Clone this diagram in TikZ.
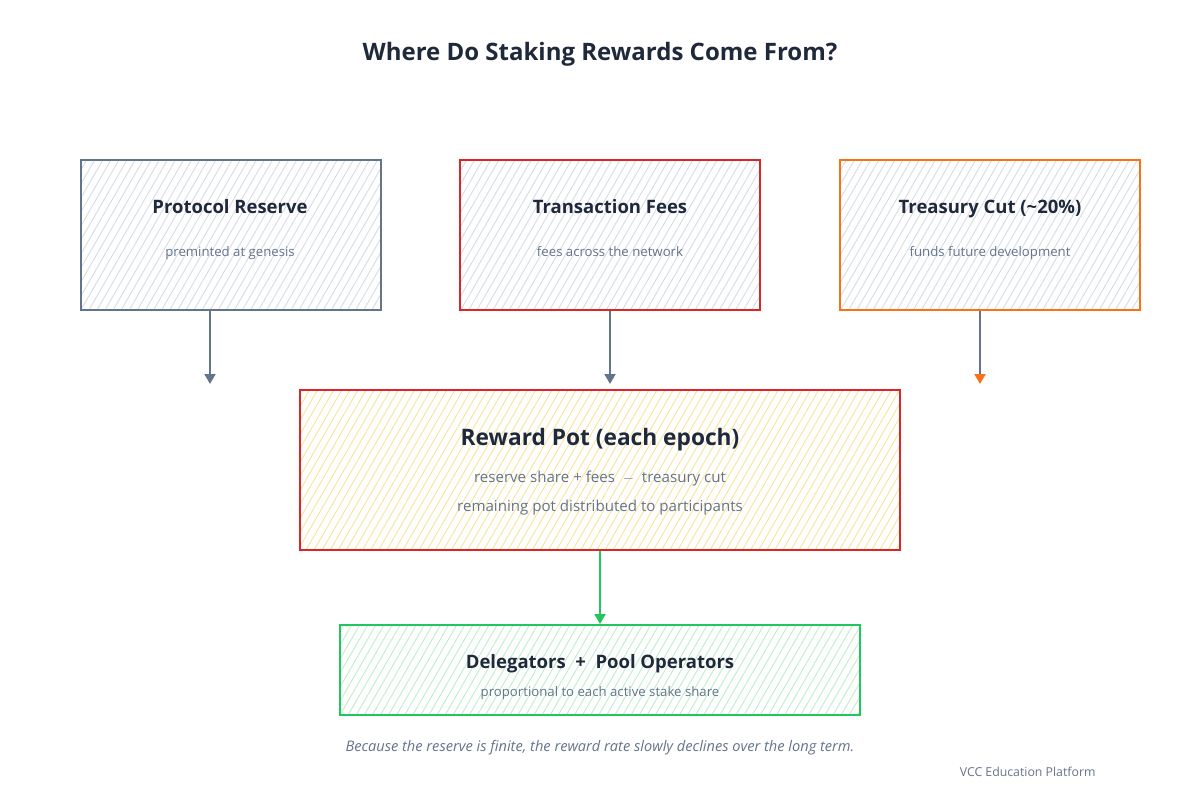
\documentclass[tikz,border=0pt]{standalone}
\usepackage{fontspec}
\setmainfont{Open Sans}
\usetikzlibrary{arrows.meta,patterns.meta}
\definecolor{ink}{HTML}{1E293B}
\definecolor{slate}{HTML}{64748B}
\definecolor{redc}{HTML}{DC2626}
\definecolor{orangec}{HTML}{F97316}
\definecolor{greenc}{HTML}{22C55E}
\definecolor{hgrey}{HTML}{D5DCE7}
\definecolor{hyellow}{HTML}{FBE39A}
\definecolor{hgreen}{HTML}{BDEFCB}
\tikzset{
  card/.style={draw=#1, line width=2pt, minimum width=300pt, minimum height=150pt, inner sep=0pt},
  hatch/.style={pattern={Lines[angle=60,distance=7pt,line width=0.9pt]}, pattern color=#1},
  ttl/.style={font=\fontsize{18.5}{22}\selectfont\bfseries, text=ink, anchor=base},
  sub/.style={font=\fontsize{13.2}{16}\selectfont, text=slate, anchor=base},
  conn/.style={line width=2pt, draw=#1, -{Triangle[width=11pt,length=10pt]}},
}
\begin{document}
\begin{tikzpicture}[x=1pt,y=-1pt]
\useasboundingbox (0,0) rectangle (1200,800);
\fill[white] (0,0) rectangle (1200,800);

\node[font=\fontsize{24}{28}\selectfont\bfseries, text=ink, anchor=base] (title) at (600,61) {Where Do Staking Rewards Come From?};

% top cards
\node[card=slate, hatch=hgrey] (reserve) at (230.5,234.5) {};
\node[card=redc, hatch=hgrey] (fees) at (610,235) {};
\node[card=orangec, hatch=hgrey] (treasury) at (990,235) {};

\node[ttl] (reserveT) at (230,213) {Protocol Reserve};
\node[sub] (reserveS) at (230,256) {preminted at genesis};
\node[ttl] (feesT) at (610,213) {Transaction Fees};
\node[sub] (feesS) at (610,256) {fees across the network};
\node[ttl] (treasuryT) at (990,213) {Treasury Cut (\char`~20\%)};
\node[sub] (treasuryS) at (990,256) {funds future development};

% reward pot
\node[draw=redc, line width=2pt, minimum width=600pt, minimum height=160pt, hatch=hyellow] (pot) at (600,470) {};
\node[font=\fontsize{22.7}{26}\selectfont\bfseries, text=ink, anchor=base] (potT) at (600,445) {Reward Pot (each epoch)};
\node[font=\fontsize{15.1}{18}\selectfont, text=slate, anchor=base] (potS1) at (600,482) {reserve share + fees \ $-$ \ treasury cut};
\node[font=\fontsize{15.1}{18}\selectfont, text=slate, anchor=base] (potS2) at (600,511.5) {remaining pot distributed to participants};

% recipients
\node[draw=greenc, line width=2pt, minimum width=520pt, minimum height=90pt, hatch=hgreen] (dest) at (600,670) {};
\node[ttl] (destT) at (600,668) {Delegators \ + \ Pool Operators};
\node[sub] (destS) at (600,696) {proportional to each active stake share};

% connectors
\coordinate (a1) at (210,384);
\coordinate (a2) at (610,384);
\coordinate (a3) at (980,384);
\draw[conn=slate] (reserve.south -| a1) -- (a1);
\draw[conn=slate] (fees.south) -- (a2);
\draw[line width=2pt, draw=slate, -{Triangle[width=11pt,length=10pt,color=orangec]}] (treasury.south -| a3) -- (a3);
\draw[conn=greenc] (pot.south) -- (dest.north);

\node[font=\fontsize{14.6}{17}\selectfont\itshape, text=slate, anchor=base] (note) at (600,751.5) {Because the reserve is finite, the reward rate slowly declines over the long term.};
\node[font=\fontsize{12.3}{15}\selectfont, text=slate, anchor=base east] (brand) at (1099,776) {VCC Education Platform};
\end{tikzpicture}
\end{document}
